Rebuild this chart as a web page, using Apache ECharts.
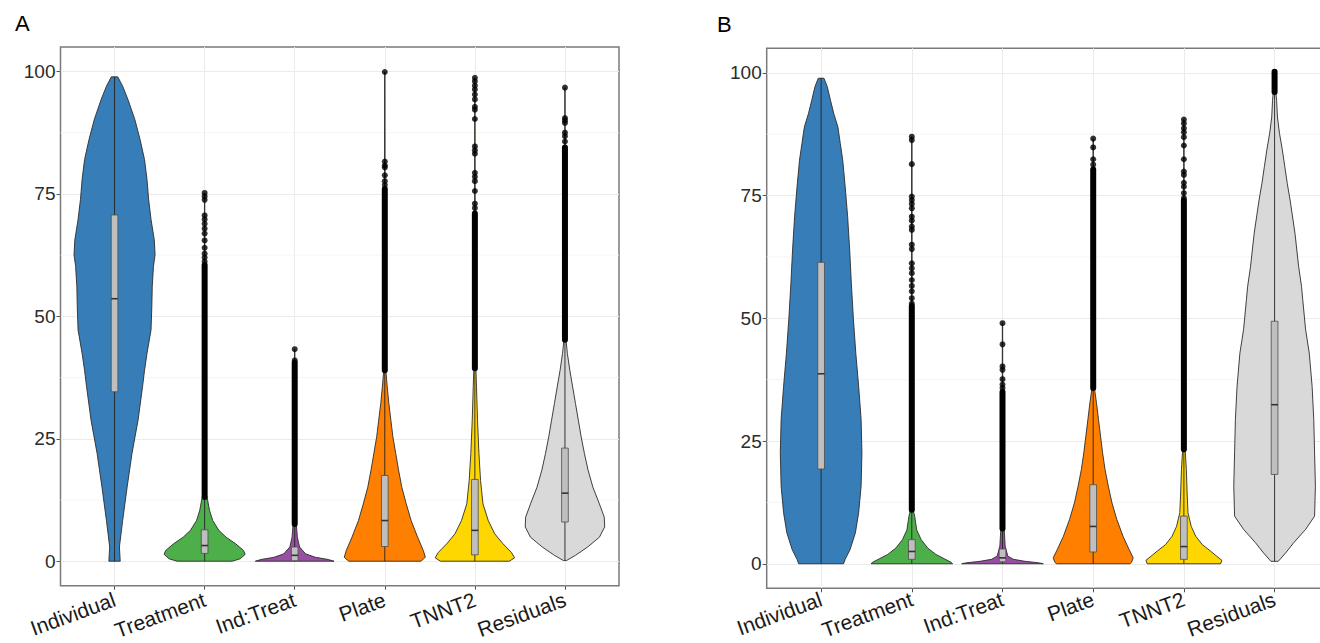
<!DOCTYPE html>
<html><head><meta charset="utf-8">
<script src="https://cdn.jsdelivr.net/npm/echarts@6/dist/echarts.min.js"></script>
<style>html,body{margin:0;padding:0;background:#fff}#chart{width:1320px;height:643px}</style>
</head><body><div id="chart"></div>
<script>
const categories = ['Individual','Treatment','Ind:Treat','Plate','TNNT2','Residuals'];
const yTicks = [0, 25, 50, 75, 100];
const yMinorTicks = [12.5, 37.5, 62.5, 87.5];
const panelLabels = ['A', 'B'];

// box statistics: [lower whisker, q1, median, q3, upper whisker]
const boxA = [
  [0, 34.6, 53.6, 70.7, 98.9],
  [0, 1.6, 3.2, 6.4, 13.1],
  [0, 0.1, 1.2, 2.9, 7.6],
  [0, 3.0, 8.3, 17.5, 39.0],
  [0, 1.3, 6.3, 16.7, 39.4],
  [0.2, 8.0, 13.9, 23.1, 45.2]
];
const boxB = [
  [0, 19.3, 38.7, 61.4, 98.9],
  [0, 0.9, 2.5, 4.9, 11.0],
  [0, 0.4, 1.2, 3.0, 7.2],
  [0, 2.4, 7.6, 16.1, 35.8],
  [0, 0.9, 3.5, 9.7, 23.3],
  [0.5, 18.2, 32.4, 49.4, 96.1]
];

// stretches where outlier points overlap into a solid column [from, to]
const denseA = [null, [13.1, 60.5], [7.6, 40.5], [39.0, 76.0], [39.4, 71.0], [45.2, 84.5]];
const denseB = [null, [11.0, 52.5], [7.2, 35.0], [35.8, 80.3], [23.3, 74.0], [96.1, 100.2]];

// separately visible outlier points
const outliersA = [
  [],
  [75.2, 74.5, 73.8, 70.6, 69.8, 68.9, 67.9, 66.9, 65.5, 64.0, 62.8, 62.0, 61.2],
  [43.3, 41.0],
  [99.9, 81.6, 80.8, 80.4, 78.8, 77.6, 76.8],
  [98.7, 98.0, 97.1, 96.3, 95.3, 94.3, 92.8, 92.2, 90.3, 84.7, 83.9, 83.2, 79.3, 78.5, 77.6, 75.6, 73.0, 72.1],
  [96.7, 90.5, 90.0, 89.5, 87.5, 86.8, 85.7]
];
const outliersB = [
  [],
  [87.0, 86.3, 81.4, 74.8, 74.1, 73.3, 72.4, 70.7, 69.9, 68.7, 68.0, 65.0, 64.1, 61.2, 60.2, 59.2, 57.8, 56.6, 55.5, 54.1, 53.0],
  [49.0, 44.7, 40.2, 39.5, 37.6, 36.5, 35.8],
  [86.6, 84.8, 82.4, 81.3],
  [90.5, 89.7, 88.7, 87.9, 86.9, 85.2, 82.4, 79.9, 79.2, 77.6, 76.8, 75.5, 74.5],
  []
];

// violin profiles: [value, relative density width (1 = widest)]
const violinA_Individual = [[0,0.14],[2.9,0.12],[8.3,0.2],[15.1,0.31],[22.0,0.43],[28.8,0.58],[35.6,0.69],[39.0,0.74],[42.4,0.8],[45.8,0.87],[47.2,0.9],[52.0,0.92],[56.1,0.93],[60.2,0.96],[62.6,1.0],[65.6,0.98],[69.8,0.9],[73.9,0.84],[78.0,0.8],[82.0,0.74],[86.1,0.63],[90.2,0.5],[94.3,0.33],[97.0,0.2],[98.9,0.08]];
const violinA_Treatment = [[0,0.68],[0.5,0.88],[1.4,1.0],[2.2,0.96],[3.6,0.76],[4.9,0.53],[6.3,0.35],[8.3,0.2],[10.4,0.12],[13.1,0.06],[15,0.01],[75.2,0.004]];
const violinA_IndTreat = [[0,0.97],[0.35,0.83],[0.8,0.51],[1.5,0.27],[2.9,0.12],[4.9,0.065],[7.6,0.04],[9,0.01],[43.3,0.004]];
const violinA_Plate = [[0,0.89],[0.8,1.0],[2.2,0.95],[4.9,0.81],[8.3,0.65],[11.7,0.53],[15.1,0.42],[18.6,0.34],[22.0,0.27],[25.4,0.2],[28.8,0.15],[32.2,0.1],[35.6,0.06],[39.0,0.025],[41,0.01],[99.9,0.004]];
const violinA_TNNT2 = [[0,0.85],[0.7,0.98],[1.8,0.9],[3.6,0.69],[5.6,0.49],[8.3,0.33],[11.7,0.2],[16.5,0.14],[22.0,0.1],[28.8,0.065],[35.6,0.04],[39.4,0.025],[41,0.01],[98.7,0.004]];
const violinA_Residuals = [[0.15,0.04],[1.2,0.26],[2.9,0.56],[4.9,0.85],[7.0,0.98],[9.0,0.97],[11.7,0.85],[15.1,0.69],[18.6,0.57],[22.0,0.48],[25.4,0.4],[28.8,0.33],[32.2,0.26],[35.6,0.19],[39.0,0.12],[42.4,0.06],[45.2,0.025],[47,0.01],[96.7,0.004]];

const violinB_Individual = [[0,0.55],[0.9,0.59],[2.9,0.71],[6.3,0.84],[10.4,0.92],[15.8,0.98],[22.6,1.0],[29.4,0.98],[36.1,0.92],[42.9,0.85],[50.0,0.79],[57.2,0.74],[63.9,0.7],[70.7,0.65],[76.8,0.59],[82.2,0.53],[85.6,0.47],[89.0,0.41],[91.7,0.31],[94.4,0.23],[97.2,0.15],[98.9,0.07]];
const violinB_Treatment = [[0,1.0],[0.3,0.96],[1.0,0.8],[1.9,0.59],[3.2,0.39],[4.9,0.23],[6.9,0.12],[9.7,0.07],[11.0,0.03],[13,0.01],[87.0,0.004]];
const violinB_IndTreat = [[0,1.0],[0.2,0.88],[0.5,0.55],[0.9,0.27],[1.55,0.13],[3.6,0.065],[7.2,0.04],[9,0.01],[49.0,0.004]];
const violinB_Plate = [[0,0.9],[0.3,0.94],[1.2,0.98],[2.9,0.88],[5.6,0.73],[9.0,0.58],[12.4,0.46],[15.8,0.37],[19.2,0.29],[22.6,0.23],[26.0,0.18],[29.4,0.13],[32.8,0.08],[35.8,0.03],[38,0.01],[86.6,0.004]];
const violinB_TNNT2 = [[0,0.9],[0.7,0.93],[1.5,0.81],[2.6,0.65],[3.9,0.45],[5.6,0.29],[7.6,0.18],[10.4,0.1],[14.4,0.08],[19.2,0.06],[23.3,0.03],[25,0.01],[90.5,0.004]];
const violinB_Residuals = [[0.5,0.09],[2.2,0.27],[4.3,0.47],[7.0,0.76],[9.7,0.98],[15.8,1.0],[22.6,0.98],[29.4,0.96],[36.1,0.92],[42.9,0.85],[47.7,0.76],[53.8,0.69],[56.5,0.66],[60.5,0.59],[67.3,0.5],[74.1,0.38],[77.5,0.31],[80.9,0.25],[84.3,0.19],[87.7,0.12],[91.0,0.07],[94.4,0.05],[96.1,0.03],[97,0.01],[100.2,0.004]];

const violinsA = [violinA_Individual, violinA_Treatment, violinA_IndTreat, violinA_Plate, violinA_TNNT2, violinA_Residuals];
const violinsB = [violinB_Individual, violinB_Treatment, violinB_IndTreat, violinB_Plate, violinB_TNNT2, violinB_Residuals];

// ---- styling ----
const fillColors = ['#377eb8', '#4daf4a', '#984ea3', '#ff7f00', '#ffd700', '#d9d9d9'];
const FONT = "'Liberation Sans', Arial, sans-serif";
const VIOLIN_HALF = 0.45;
const BOX_HALF = 0.037;
const X_MIN = -0.6, X_MAX = 5.6;

function panelSeries(gi, violins, box, dense, pts) {
  const base = { xAxisIndex: gi, yAxisIndex: gi, silent: true, animation: false };
  const denseData = [];
  dense.forEach((d, i) => { if (d) denseData.push([i, d[0], d[1]]); });
  const ptData = [];
  pts.forEach((arr, i) => arr.forEach(v => ptData.push([i, v])));
  return [
    Object.assign({}, base, {
      type: 'custom', z: 1,
      data: yMinorTicks.map(v => [0, v]),
      renderItem: (p, api) => {
        const v = api.value(1);
        const a = api.coord([X_MIN, v]), b = api.coord([X_MAX, v]);
        return { type: 'line', shape: { x1: a[0], y1: a[1], x2: b[0], y2: b[1] },
          style: { stroke: '#f3f3f3', lineWidth: 0.8 } };
      }
    }),
    Object.assign({}, base, {
      type: 'custom', z: 2,
      data: categories.map((c, i) => [i, box[i][2]]),
      renderItem: (p, api) => {
        const i = p.dataIndex;
        const prof = violins[i];
        const pts = [];
        for (let k = 0; k < prof.length; k++) pts.push(api.coord([i - prof[k][1] * VIOLIN_HALF, prof[k][0]]));
        for (let k = prof.length - 1; k >= 0; k--) pts.push(api.coord([i + prof[k][1] * VIOLIN_HALF, prof[k][0]]));
        return { type: 'polygon', shape: { points: pts },
          style: { fill: fillColors[i], stroke: '#2b2b2b', lineWidth: 0.9 } };
      }
    }),
    Object.assign({}, base, {
      type: 'custom', z: 3,
      data: categories.map((c, i) => [i].concat(box[i])),
      renderItem: (p, api) => {
        const i = api.value(0);
        const lo = api.value(1), q1 = api.value(2), med = api.value(3), q3 = api.value(4), hi = api.value(5);
        const c = api.coord([i, lo]), d = api.coord([i, q1]), e = api.coord([i, q3]), f = api.coord([i, hi]);
        const l = api.coord([i - BOX_HALF, q3]), r = api.coord([i + BOX_HALF, q1]);
        const ml = api.coord([i - BOX_HALF, med]), mr = api.coord([i + BOX_HALF, med]);
        return { type: 'group', children: [
          { type: 'line', shape: { x1: c[0], y1: c[1], x2: d[0], y2: d[1] }, style: { stroke: '#222', lineWidth: 0.9 } },
          { type: 'line', shape: { x1: e[0], y1: e[1], x2: f[0], y2: f[1] }, style: { stroke: '#222', lineWidth: 0.9 } },
          { type: 'rect', shape: { x: l[0], y: l[1], width: r[0] - l[0], height: r[1] - l[1] },
            style: { fill: '#bfbfbf', stroke: '#4d4d4d', lineWidth: 0.8 } },
          { type: 'line', shape: { x1: ml[0], y1: ml[1], x2: mr[0], y2: mr[1] }, style: { stroke: '#333', lineWidth: 1.6 } }
        ] };
      }
    }),
    Object.assign({}, base, {
      type: 'custom', z: 4,
      data: denseData,
      renderItem: (p, api) => {
        const a = api.coord([api.value(0), api.value(1)]), b = api.coord([api.value(0), api.value(2)]);
        return { type: 'line', shape: { x1: a[0], y1: a[1], x2: b[0], y2: b[1] },
          style: { stroke: '#000', lineWidth: 6, lineCap: 'round' } };
      }
    }),
    Object.assign({}, base, {
      type: 'scatter', z: 5,
      data: ptData, symbol: 'circle', symbolSize: 6,
      itemStyle: { color: '#000' }
    })
  ];
}

function xAxisFor(gi, margin) {
  return {
    type: 'value', gridIndex: gi, min: X_MIN, max: X_MAX,
    axisLine: { show: false, onZero: false },
    axisTick: { show: true, length: 4, customValues: [0, 1, 2, 3, 4, 5], lineStyle: { color: '#555', width: 1 } },
    axisLabel: { customValues: [0, 1, 2, 3, 4, 5], formatter: v => categories[Math.round(v)],
      rotate: 20, margin: margin, fontSize: 21, color: '#1a1a1a', fontFamily: FONT },
    splitLine: { show: true, lineStyle: { color: '#ebebeb', width: 1 } }
  };
}
function yAxisFor(gi) {
  return {
    type: 'value', gridIndex: gi, min: -5, max: 105,
    axisLine: { show: false, onZero: false },
    axisTick: { show: true, length: 4, customValues: yTicks, lineStyle: { color: '#555', width: 1 } },
    axisLabel: { customValues: yTicks, margin: 5, fontSize: 19, color: '#2b2b2b', fontFamily: FONT },
    splitLine: { show: true, lineStyle: { color: '#ebebeb', width: 1 } }
  };
}

const chart = echarts.init(document.getElementById('chart'), null, { renderer: 'svg' });
chart.setOption({
  animation: false,
  backgroundColor: '#fff',
  title: [
    { text: panelLabels[0], left: 10, top: 7, textStyle: { fontSize: 22, fontWeight: 'normal', color: '#000', fontFamily: FONT } },
    { text: panelLabels[1], left: 712, top: 8, textStyle: { fontSize: 22, fontWeight: 'normal', color: '#000', fontFamily: FONT } }
  ],
  grid: [
    { left: 60.5, top: 47, width: 558.5, height: 538.7, show: true, borderColor: '#7a7a7a', borderWidth: 1.5, backgroundColor: '#fff', outerBoundsMode: 'none', containLabel: false },
    { left: 766.7, top: 48.3, width: 562.3, height: 540, show: true, borderColor: '#7a7a7a', borderWidth: 1.5, backgroundColor: '#fff', outerBoundsMode: 'none', containLabel: false }
  ],
  xAxis: [xAxisFor(0, 13), xAxisFor(1, 10)],
  yAxis: [yAxisFor(0), yAxisFor(1)],
  series: panelSeries(0, violinsA, boxA, denseA, outliersA).concat(panelSeries(1, violinsB, boxB, denseB, outliersB))
});
</script>
</body></html>
